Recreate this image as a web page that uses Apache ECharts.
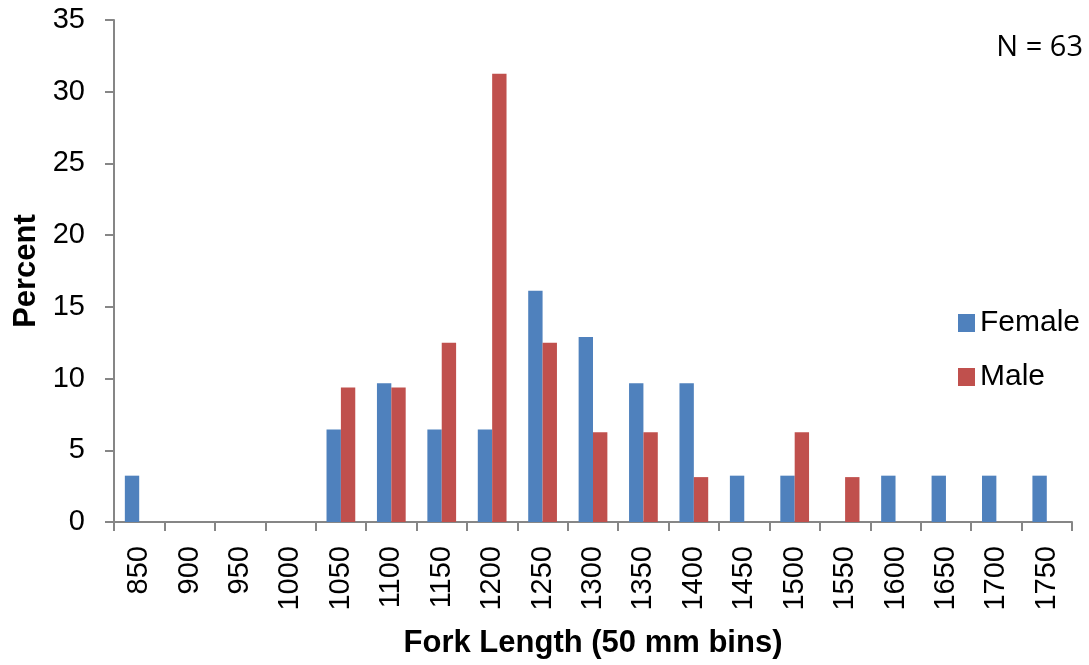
<!DOCTYPE html>
<html>
<head>
<meta charset="utf-8">
<script src="https://cdn.jsdelivr.net/npm/echarts@6/dist/echarts.min.js"></script>
<style>html,body{margin:0;padding:0;background:#fff;}#c{width:1089px;height:665px;}</style>
</head>
<body>
<div id="c"></div>
<script>
var categories = ['850','900','950','1000','1050','1100','1150','1200','1250','1300','1350','1400','1450','1500','1550','1600','1650','1700','1750'];
var female = [3.23,0,0,0,6.45,9.68,6.45,6.45,16.13,12.9,9.68,9.68,3.23,3.23,0,3.23,3.23,3.23,3.23];
var male = [0,0,0,0,9.38,9.38,12.5,31.25,12.5,6.25,6.25,3.13,0,6.25,3.13,0,0,0,0];
var yTicks = {min:0, max:35, interval:5};

var chart = echarts.init(document.getElementById('c'), null, {renderer:'canvas'});
var font = 'Liberation Sans, Arial, sans-serif';
chart.setOption({
  animation:false,
  backgroundColor:'#fff',
  grid:{left:114, right:17, top:20, bottom:143, containLabel:false},
  legend:{
    orient:'vertical', left:953, top:303, itemWidth:17, itemHeight:18, itemGap:24,
    icon:'rect',
    textStyle:{fontFamily:font, fontSize:30, color:'#000', padding:[0,0,0,0], lineHeight:30},
    data:['Female','Male']
  },
  graphic:[{type:'text', right:6, top:33, style:{text:'N = 63', fontFamily:'Open Sans, sans-serif', fontSize:29, fill:'#000'}}],
  xAxis:{
    type:'category', data:categories,
    name:'Fork Length (50 mm bins)', nameLocation:'middle', nameGap:106,
    nameTextStyle:{fontFamily:font, fontSize:31, fontWeight:'bold', color:'#000'},
    axisLine:{show:true, lineStyle:{color:'#868686', width:2}},
    axisTick:{show:true, length:9, alignWithLabel:false, lineStyle:{color:'#868686', width:2}},
    axisLabel:{rotate:90, margin:24, fontFamily:font, fontSize:29, color:'#000', interval:0}
  },
  yAxis:{
    type:'value', min:yTicks.min, max:yTicks.max, interval:yTicks.interval,
    name:'Percent', nameLocation:'middle', nameGap:72,
    nameTextStyle:{fontFamily:font, fontSize:31, fontWeight:'bold', color:'#000'},
    axisLine:{show:true, lineStyle:{color:'#868686', width:2}},
    axisTick:{show:true, length:9, lineStyle:{color:'#868686', width:2}},
    axisLabel:{margin:29, fontFamily:font, fontSize:29, color:'#000'},
    splitLine:{show:false}
  },
  series:[
    {name:'Female', type:'bar', data:female, barGap:'0%', barCategoryGap:'43%', itemStyle:{color:'#4F81BD'}},
    {name:'Male', type:'bar', data:male, barGap:'0%', barCategoryGap:'43%', itemStyle:{color:'#C0504D'}}
  ]
});
</script>
</body>
</html>
